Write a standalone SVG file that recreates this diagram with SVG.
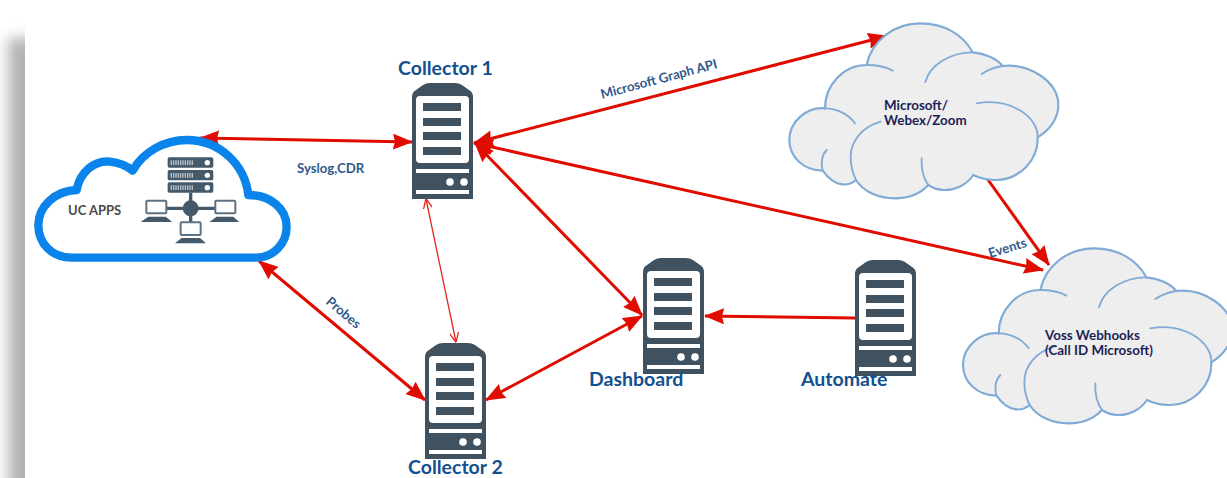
<svg xmlns="http://www.w3.org/2000/svg" width="1227" height="478" viewBox="0 0 1227 478">
<style>
.srv{fill:#40525f}
.w{fill:#fff}
.cl{fill:#eeeeee;stroke:#80abd6;stroke-width:6.5;stroke-linejoin:round}
.in{fill:none;stroke:#80abd6;stroke-width:5.5;stroke-linecap:round}
.c{fill:none;stroke:#e00c00;stroke-width:3;marker-start:url(#a);marker-end:url(#a)}
.one{marker-start:none}
.thin{stroke:#e8271c;stroke-width:1.3;marker-start:url(#t);marker-end:url(#t)}
text{font-family:"Lato","Liberation Sans",sans-serif}
.n{fill:#12508f;font-size:19.5px;font-weight:700}
.l{fill:#2f5a8c;font-size:13.2px;font-weight:700}
.d{fill:#1d1f55;font-size:13.4px;font-weight:700}
.ic{fill:#44596a}
.sc{fill:#fff;stroke:#5d7282;stroke-width:6}
</style>
<defs>
<filter id="b" x="-200%" width="500%" y="-10%" height="120%"><feGaussianBlur stdDeviation="7"/></filter>
<marker id="a" viewBox="0 0 20 16" markerUnits="userSpaceOnUse" markerWidth="20" markerHeight="16" refX="19" refY="8" orient="auto-start-reverse"><path d="M0 0L20 8L0 16L2 8Z" fill="#e00c00"/></marker>
<marker id="t" viewBox="0 0 10 9" markerUnits="userSpaceOnUse" markerWidth="10" markerHeight="9" refX="9.5" refY="4.5" orient="auto-start-reverse"><path d="M0 0L10 4.500L0 9" fill="none" stroke="#e8271c" stroke-width="1.3"/></marker>
<g id="server">
<path class="srv" d="M0 116V14Q0 9 4 7L11 2Q14 0 18 0H43Q47 0 50 2L57 7Q61 9 61 14V116Z"/>
<rect class="w" x="4" y="13" width="53" height="67" rx="4"/>
<rect class="srv" x="11" y="20" width="38" height="8"/>
<rect class="srv" x="11" y="35" width="38" height="8"/>
<rect class="srv" x="11" y="49" width="38" height="8"/>
<rect class="srv" x="11" y="64" width="38" height="8"/>
<rect class="w" x="4" y="86" width="53" height="4"/>
<circle class="w" cx="38" cy="99" r="3.8"/>
<circle class="w" cx="52" cy="99" r="3.8"/>
<rect class="w" x="4" y="107" width="53" height="4"/>
</g>
<g id="cloudshape">
<path class="cl" d="M260 165C275 90 345 40 420 40C495 40 550 75 578 127C615 130 650 145 668 168C750 160 835 215 835 285C835 325 810 360 773 382C775 450 720 508 650 510C625 511 600 505 580 495C560 525 525 542 490 540C472 539 457 533 445 525C420 552 385 565 345 565C295 565 250 545 228 510C205 530 165 533 128 482C70 482 28 440 28 390C28 335 80 290 135 295C135 225 190 165 260 165Z"/>
<path class="in" d="M135 295C170 295 205 312 225 340"/>
<path class="in" d="M260 165C290 165 318 170 338 182"/>
<path class="in" d="M436 216C450 165 510 127 578 127"/>
<path class="in" d="M605 192C622 180 645 172 668 168"/>
<path class="in" d="M590 280C690 262 775 320 773 382"/>
<path class="in" d="M302 335C250 350 212 390 212 440C212 465 218 490 228 510"/>
<path class="in" d="M425 445C423 480 430 505 445 525"/>
<path class="in" d="M140 420C125 435 122 460 128 482"/>
</g>
</defs>
<rect width="1227" height="478" fill="#fff"/>
<rect x="8" y="38" width="30" height="460" fill="#b4b4b4" filter="url(#b)"/>
<rect x="25" y="10" width="1202" height="468" fill="#fff"/>

<g id="connectors">
<path class="c" d="M200 138L412 142"/>
<path class="c" d="M474 143L887 36"/>
<path class="c" d="M474 143L1043 270"/>
<path class="c" d="M475 143L642 315"/>
<path class="c one" d="M986 177L1049 265"/>
<path class="c thin" d="M426 199L456 342"/>
<path class="c" d="M259 261L425 400"/>
<path class="c" d="M486 400L642 316"/>
<path class="c one" d="M855 318L705 316"/>
</g>

<g id="uc-apps">
<g transform="scale(.3333)">
<path d="M770 773H215C155 773 115 730 115 675C115 620 165 572 230 570C240 515 285 480 330 485C360 488 380 498 398 512C430 455 495 420 560 420C660 420 735 495 745 585C810 585 860 625 860 680C860 730 820 773 770 773Z" fill="#fff" stroke="#0a84ea" stroke-width="25" stroke-linejoin="round"/>
<rect class="ic" x="503" y="472" width="137" height="31" rx="5"/>
<rect class="ic" x="503" y="510" width="137" height="31" rx="5"/>
<rect class="ic" x="503" y="547" width="137" height="31" rx="5"/>
<circle class="w" cx="622" cy="488" r="8"/>
<circle class="w" cx="622" cy="526" r="8"/>
<circle class="w" cx="622" cy="563" r="8"/>
<path d="M512 488H580M512 526H580M512 563H580" stroke="#b9c4cc" stroke-width="14" stroke-dasharray="4 3" fill="none"/>
<path d="M572 578V668M498 625H645" stroke="#44596a" stroke-width="10" fill="none"/>
<circle class="ic" cx="572" cy="625" r="24"/>
<rect class="sc" x="439" y="602" width="60" height="38" rx="3"/>
<rect class="sc" x="646" y="602" width="60" height="38" rx="3"/>
<rect class="sc" x="542" y="667" width="60" height="38" rx="3"/>
<path class="ic" d="M422 666L445 650H497L517 666Z"/>
<path class="ic" d="M628 666L650 650H700L718 666Z"/>
<path class="ic" d="M525 730L545 714H600L618 730Z"/>
</g>
<text x="68" y="215" fill="#4a4a4a" font-size="13" font-weight="700">UC APPS</text>
</g>

<g id="collector-1"><use href="#server" x="412" y="83"/><text class="n" x="398" y="75">Collector 1</text></g>
<g id="collector-2"><use href="#server" x="425" y="343"/><text class="n" x="408" y="474">Collector 2</text></g>
<g id="dashboard"><use href="#server" x="643" y="258"/><text class="n" x="589" y="386">Dashboard</text></g>
<g id="automate"><use href="#server" x="855" y="260"/><text class="n" x="801" y="386">Automate</text></g>

<g id="microsoft"><use href="#cloudshape" transform="translate(780 10) scale(.3333)"/>
<text class="d" x="884" y="110">Microsoft/</text><text class="d" x="884" y="125">Webex/Zoom</text></g>
<g id="voss"><use href="#cloudshape" transform="translate(953.7 235) scale(.3333)"/>
<text class="d" x="1045" y="340">Voss Webhooks</text><text class="d" x="1045" y="355">(Call ID Microsoft)</text></g>

<text class="l" x="297" y="173">Syslog,CDR</text>
<text class="l" transform="translate(602 99) rotate(-15)">Microsoft Graph API</text>
<text class="l" transform="translate(325 303) rotate(40)">Probes</text>
<text class="l" transform="translate(990 258) rotate(-17)">Events</text>
</svg>
